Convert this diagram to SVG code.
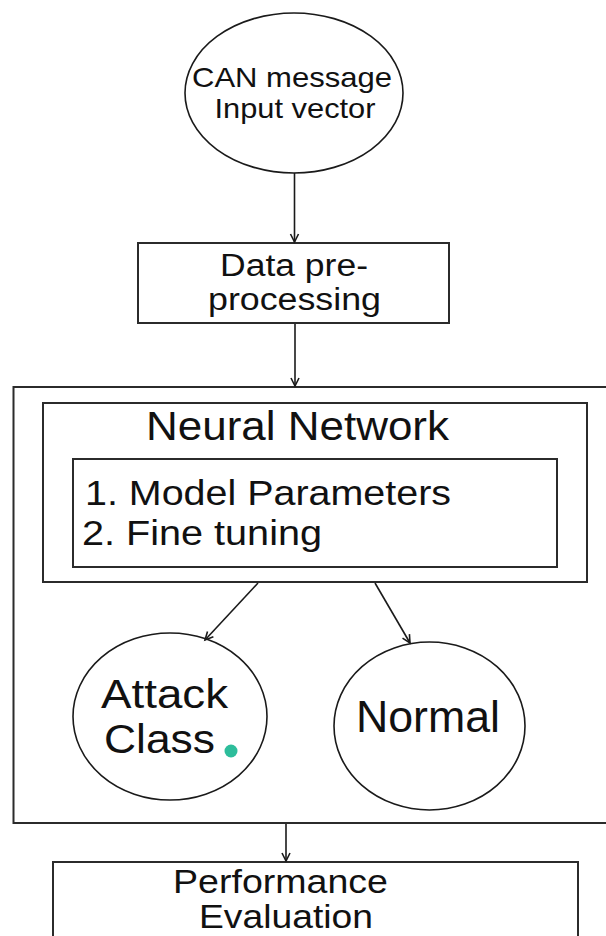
<svg xmlns="http://www.w3.org/2000/svg" width="606" height="936" viewBox="0 0 606 936">
  <defs>
    <style>
      .box { fill: #ffffff; stroke: #2b2b2b; stroke-width: 2; }
      .oval { fill: #ffffff; stroke: #1a1a1a; stroke-width: 1.6; }
      .edge { fill: none; stroke: #1a1a1a; stroke-width: 1.6; }
      .lbl { font-family: "Liberation Sans", Arial, sans-serif; fill: #111111; }
      .mid { text-anchor: middle; }
    </style>
    <marker id="arrow" markerUnits="userSpaceOnUse" markerWidth="12" markerHeight="12" refX="9" refY="5" orient="auto">
      <path d="M1,1 L9,5 L1,9" fill="none" stroke="#1a1a1a" stroke-width="1.6" stroke-linejoin="miter"/>
    </marker>
  </defs>

  <rect width="606" height="936" fill="#ffffff"/>

  <!-- input -->
  <g id="input">
    <ellipse class="oval" cx="294" cy="93" rx="109" ry="80"/>
    <text class="lbl mid" x="292" y="87" font-size="28" textLength="200" lengthAdjust="spacingAndGlyphs">CAN message</text>
    <text class="lbl mid" x="295" y="118" font-size="28" textLength="161" lengthAdjust="spacingAndGlyphs">Input vector</text>
  </g>

  <!-- preprocessing step -->
  <g id="preprocessing">
    <rect class="box" x="138" y="243" width="311" height="80"/>
    <text class="lbl mid" x="294" y="276" font-size="31" textLength="148" lengthAdjust="spacingAndGlyphs">Data pre-</text>
    <text class="lbl mid" x="294.5" y="310" font-size="31" textLength="173" lengthAdjust="spacingAndGlyphs">processing</text>
  </g>

  <!-- classifier container -->
  <g id="classifier">
    <rect class="box" x="13.5" y="387" width="600" height="436"/>
  </g>

  <g id="neural-network">
    <rect class="box" x="43" y="403" width="544" height="179"/>
    <text class="lbl mid" x="297.5" y="440" font-size="40" textLength="303" lengthAdjust="spacingAndGlyphs">Neural Network</text>
  </g>

  <g id="training">
    <rect class="box" x="73" y="459" width="484" height="108"/>
    <text class="lbl" x="85" y="505" font-size="35" textLength="366" lengthAdjust="spacingAndGlyphs">1. Model Parameters</text>
    <text class="lbl" x="82" y="545" font-size="35" textLength="240" lengthAdjust="spacingAndGlyphs">2. Fine tuning</text>
  </g>

  <g id="attack-class">
    <ellipse class="oval" cx="170" cy="716.5" rx="97" ry="83.5"/>
    <text class="lbl mid" x="164.5" y="708" font-size="41" textLength="127" lengthAdjust="spacingAndGlyphs">Attack</text>
    <text class="lbl mid" x="159.5" y="753" font-size="41" textLength="111" lengthAdjust="spacingAndGlyphs">Class</text>
    <circle cx="231" cy="751" r="6.5" fill="#2dbd9b"/>
  </g>

  <g id="normal">
    <ellipse class="oval" cx="429.5" cy="726" rx="95.5" ry="84"/>
    <text class="lbl mid" x="428" y="732" font-size="44" textLength="144" lengthAdjust="spacingAndGlyphs">Normal</text>
  </g>

  <g id="evaluation">
    <rect class="box" x="53" y="862" width="525" height="100"/>
    <text class="lbl mid" x="280.5" y="893" font-size="33" textLength="215" lengthAdjust="spacingAndGlyphs">Performance</text>
    <text class="lbl mid" x="286" y="928" font-size="33" textLength="174" lengthAdjust="spacingAndGlyphs">Evaluation</text>
  </g>

  <!-- connectors -->
  <g id="connectors">
    <line class="edge" x1="294.5" y1="173" x2="294.5" y2="242" marker-end="url(#arrow)"/>
    <line class="edge" x1="295" y1="324" x2="295" y2="386" marker-end="url(#arrow)" stroke-width="2"/>
    <line class="edge" x1="258" y1="583" x2="205" y2="640" marker-end="url(#arrow)"/>
    <line class="edge" x1="375" y1="583" x2="410" y2="643" marker-end="url(#arrow)"/>
    <line class="edge" x1="286" y1="824" x2="286" y2="861" marker-end="url(#arrow)"/>
  </g>
</svg>
